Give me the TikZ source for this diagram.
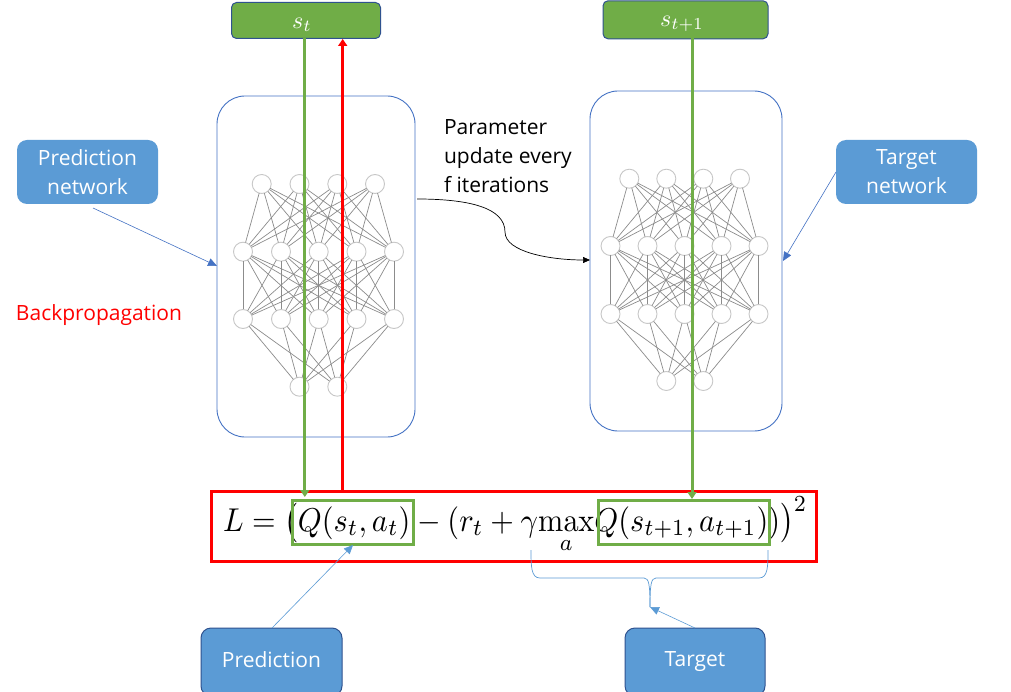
\documentclass[tikz,border=0pt]{standalone}
\usepackage[no-math]{fontspec}
\setmainfont{Open Sans}
\usepackage{amsmath}
\usetikzlibrary{arrows.meta,calc}
\definecolor{gr}{HTML}{70AD47}
\definecolor{bl}{HTML}{5B9BD5}
\definecolor{ol}{HTML}{4472C4}
\definecolor{sb}{HTML}{2F528F}
\tikzset{
 x=1pt,y=-1pt,
 every node/.style={outer sep=0pt},
 neuron/.style={circle,draw=black!22,line width=.9pt,fill=white,minimum size=19pt,inner sep=0pt},
 syn/.style={draw=black!45,line width=.7pt},
 netbox/.style={draw=ol,line width=.9pt,rounded corners=28pt,inner sep=0pt},
 bluebox/.style={fill=bl,rounded corners=10pt,inner sep=0pt,text=white,align=center,font=\fontsize{21}{29}\selectfont},
 framedbox/.style={bluebox,draw=sb,line width=1pt},
 statebox/.style={fill=gr,draw=sb,line width=1pt,rounded corners=5pt,inner sep=0pt,text=white},
 blueline/.style={draw=bl,line width=.6pt,-{Triangle[length=9pt,width=8pt]}},
 darkline/.style={draw=ol,line width=.6pt,-{Triangle[length=9pt,width=8pt]}},
 greenline/.style={draw=gr,line width=3pt,-{Triangle[length=7pt,width=9pt]}},
 redline/.style={draw=red,line width=3pt,-{Triangle[length=7pt,width=9pt]}},
 lab/.style={inner sep=0pt,align=left},
}
\begin{document}
\begin{tikzpicture}
\useasboundingbox[fill=white] (0,0) rectangle (1011,692);
% network boxes
\node[netbox,minimum width=198pt,minimum height=341pt,anchor=north west] (netL) at (217,96) {};
\node[netbox,minimum width=192pt,minimum height=340pt,anchor=north west] (netR) at (590,91) {};
% left network
\foreach \i/\x in {1/261.7,2/299.5,3/337.3,4/375}{\node[neuron] (La\i) at (\x,184) {};}
\foreach \i/\x in {1/243,2/281,3/318.7,4/356.5,5/394}{
 \node[neuron] (Lb\i) at (\x,251.7) {};
 \node[neuron] (Lc\i) at (\x,319) {};}
\foreach \i/\x in {1/299.5,2/337.3}{\node[neuron] (Ld\i) at (\x,386.7) {};}
% right network
\foreach \i/\x in {1/629.3,2/666.3,3/703.3,4/740}{\node[neuron] (Ra\i) at (\x,178.7) {};}
\foreach \i/\x in {1/610.5,2/647.5,3/684.5,4/721.5,5/758.5}{
 \node[neuron] (Rb\i) at (\x,246) {};
 \node[neuron] (Rc\i) at (\x,314) {};}
\foreach \i/\x in {1/666.3,2/703.3}{\node[neuron] (Rd\i) at (\x,381) {};}
\foreach \N in {L,R}{
 \foreach \i in {1,...,4}\foreach \j in {1,...,5}{\draw[syn] (\N a\i)--(\N b\j);}
 \foreach \i in {1,...,5}\foreach \j in {1,...,5}{\draw[syn] (\N b\i)--(\N c\j);}
 \foreach \i in {1,...,5}\foreach \j in {1,2}{\draw[syn] (\N c\i)--(\N d\j);}
}
% state boxes
\node[statebox,minimum width=149pt,minimum height=36pt,anchor=north west] (st) at (231.5,2.5) {};
\node[text=white,inner sep=0pt] (stl) at (302,25) {\scalebox{2.4}{$s_t$}};
\node[statebox,minimum width=165pt,minimum height=38pt,anchor=north west] (sn) at (603,.8) {};
\node[text=white,inner sep=0pt] (snl) at (682,24) {\scalebox{2.4}{$s_{t+1}$}};
% formula
\node[inner sep=0pt,anchor=base west] (eq) at (223,531) {\scalebox{3.03}[3.3]{$L=\bigl(Q(s_t,a_t)-(r_t+\gamma\!\max\limits_a\!Q(s_{t+1},a_{t+1}))\bigr)^{2}$}};
% red and green frames
\node[draw=red,line width=3pt,minimum width=605pt,minimum height=70pt,anchor=north west,inner sep=0pt] (loss) at (211,491) {};
\node[draw=gr,line width=3pt,minimum width=121.5pt,minimum height=44pt,anchor=north west,inner sep=0pt] (qa) at (292,500) {};
\node[draw=gr,line width=3pt,minimum width=171pt,minimum height=44pt,anchor=north west,inner sep=0pt] (qb) at (598,500) {};
% vertical arrows
\coordinate (g1a) at (304.8,38.5);\coordinate (g1b) at (304.8,497);
\coordinate (r1a) at (342.7,490);\coordinate (r1b) at (342.7,39);
\coordinate (g2a) at (692,38.5);\coordinate (g2b) at (692,499);
\draw[greenline] (g1a)--(g1b);
\draw[redline] (r1a)--(r1b);
\draw[greenline] (g2a)--(g2b);
% blue boxes
\node[bluebox,minimum width=141pt,minimum height=64pt,anchor=north west] (pn) at (17,140) {Prediction\\network};
\node[bluebox,minimum width=141pt,minimum height=64pt,anchor=north west] (tn) at (836,140) {Target\vphantom{g}\\network};
\node[framedbox,minimum width=141pt,minimum height=68pt,anchor=north west] (pr) at (201,628) {Prediction\vphantom{Pg}};
\node[framedbox,minimum width=140pt,minimum height=68pt,anchor=north west] (tg) at (625,628) {Target\vphantom{Pg}};
% labels
\node[lab,text=red,anchor=base west,font=\fontsize{21}{24}\selectfont] (bp) at (16,320) {Backpropagation};
\node[lab,anchor=north west,font=\fontsize{21}{29}\selectfont] (pu) at (444,120) {Parameter\\update every\\f iterations};
% thin arrows
\coordinate (a1) at (93,208);\coordinate (a2) at (217,266);
\draw[darkline] (a1)--(a2);
\coordinate (b1) at (836,172);\coordinate (b2) at (783,261);
\draw[darkline] (b1)--(b2);
\coordinate (c1) at (272,628);\coordinate (c2) at (353,545);
\draw[blueline] (c1)--(c2);
\coordinate (d1) at (695,628);\coordinate (d2) at (650,607);
\draw[blueline] (d1)--(d2);
% black curve
\coordinate (e1) at (417,199);\coordinate (e2) at (590,260);
\draw[black,line width=.7pt,-{Triangle[length=7pt,width=6pt]}] (e1) .. controls (470,199) and (505,208) .. (505,232) .. controls (505,252) and (550,260) .. (e2);
% brace
\coordinate (f1) at (531,550);\coordinate (f2) at (768,550);\coordinate (f3) at (650,607);
\draw[draw=bl,line width=.7pt] (f1) .. controls (531,566) and (531,578) .. (540,578) -- (644,578) .. controls (649,578) and (650,585) .. (f3);
\draw[draw=bl,line width=.7pt] (f2) .. controls (768,566) and (768,578) .. (759,578) -- (656,578) .. controls (651,578) and (650,585) .. (f3);
\end{tikzpicture}
\end{document}
